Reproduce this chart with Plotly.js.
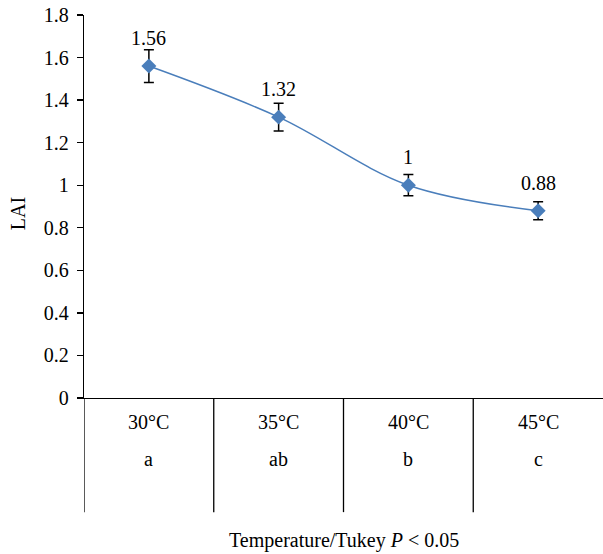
<!DOCTYPE html>
<html>
<head>
<meta charset="utf-8">
<script src="https://cdn.plot.ly/plotly-3.0.1.min.js"></script>
<style>html,body{margin:0;padding:0;background:#fff;}#chart{width:603px;height:554px;}</style>
</head>
<body>
<div id="chart"></div>
<script>
const categories = ["30°C", "35°C", "40°C", "45°C"];
const tukeyLetters = ["a", "ab", "b", "c"];
const laiValues = [1.56, 1.32, 1.0, 0.88];
const laiErrors = [0.077, 0.065, 0.05, 0.042];
const valueLabels = ["1.56", "1.32", "1", "0.88"];
const yTicks = [0, 0.2, 0.4, 0.6, 0.8, 1, 1.2, 1.4, 1.6, 1.8];

const font = "'Liberation Serif', 'DejaVu Serif', serif";
const fs = 20;
const blue = "#4a7ebb";

const trace = {
  x: [0, 1, 2, 3],
  y: laiValues,
  type: "scatter",
  mode: "lines+markers",
  line: {color: blue, width: 1.5, shape: "spline", smoothing: 1},
  marker: {symbol: "diamond", size: 11.5, color: blue},
  error_y: {type: "data", array: laiErrors, visible: true, color: "#000", thickness: 1.5, width: 5},
  hoverinfo: "none"
};

const annotations = [];
categories.forEach((c, i) => {
  annotations.push({x: i, xref: "x", y: 0, yref: "paper", yshift: -24, text: c, showarrow: false,
    font: {family: font, size: fs, color: "#000"}, yanchor: "middle"});
  annotations.push({x: i, xref: "x", y: 0, yref: "paper", yshift: -61, text: tukeyLetters[i], showarrow: false,
    font: {family: font, size: fs, color: "#000"}, yanchor: "middle"});
  annotations.push({x: i, xref: "x", y: laiValues[i], yref: "y", yshift: 28, text: valueLabels[i], showarrow: false,
    font: {family: font, size: fs, color: "#000"}, yanchor: "middle"});
});
annotations.push({x: 0.5, xref: "paper", y: 0, yref: "paper", yshift: -142, text: "Temperature/Tukey <i>P</i> &lt; 0.05",
  showarrow: false, font: {family: font, size: fs, color: "#000"}, yanchor: "middle"});
annotations.push({x: -0.127, xref: "paper", y: 0.48, yref: "paper", text: "LAI", textangle: -90, showarrow: false,
  font: {family: font, size: fs, color: "#000"}, xanchor: "center", yanchor: "middle"});

const shapes = [-0.5, 0.5, 1.5, 2.5].map(b => ({
  type: "line", xref: "x", yref: "paper", x0: b, x1: b, y0: 0, y1: -0.298,
  line: {color: "#000", width: 1.3}
}));

const layout = {
  width: 603, height: 554,
  margin: {l: 84, r: 0, t: 15, b: 156},
  paper_bgcolor: "#fff", plot_bgcolor: "#fff",
  showlegend: false,
  font: {family: font, size: fs, color: "#000"},
  xaxis: {range: [-0.5, 3.5], showticklabels: false, showgrid: false, zeroline: false,
    showline: true, linecolor: "#000", linewidth: 1.3, ticks: "", fixedrange: true},
  yaxis: {range: [0, 1.8], tickvals: yTicks, ticktext: yTicks.map(v => String(v)),
    showgrid: false, zeroline: false, showline: true, linecolor: "#000", linewidth: 1.3,
    ticks: "outside", ticklen: 6, tickcolor: "#000", tickwidth: 1.3, ticklabelstandoff: 4,
    tickfont: {family: font, size: fs, color: "#000"}, fixedrange: true},
  annotations: annotations,
  shapes: shapes
};

Plotly.newPlot("chart", [trace], layout, {displayModeBar: false, staticPlot: true});
</script>
</body>
</html>
